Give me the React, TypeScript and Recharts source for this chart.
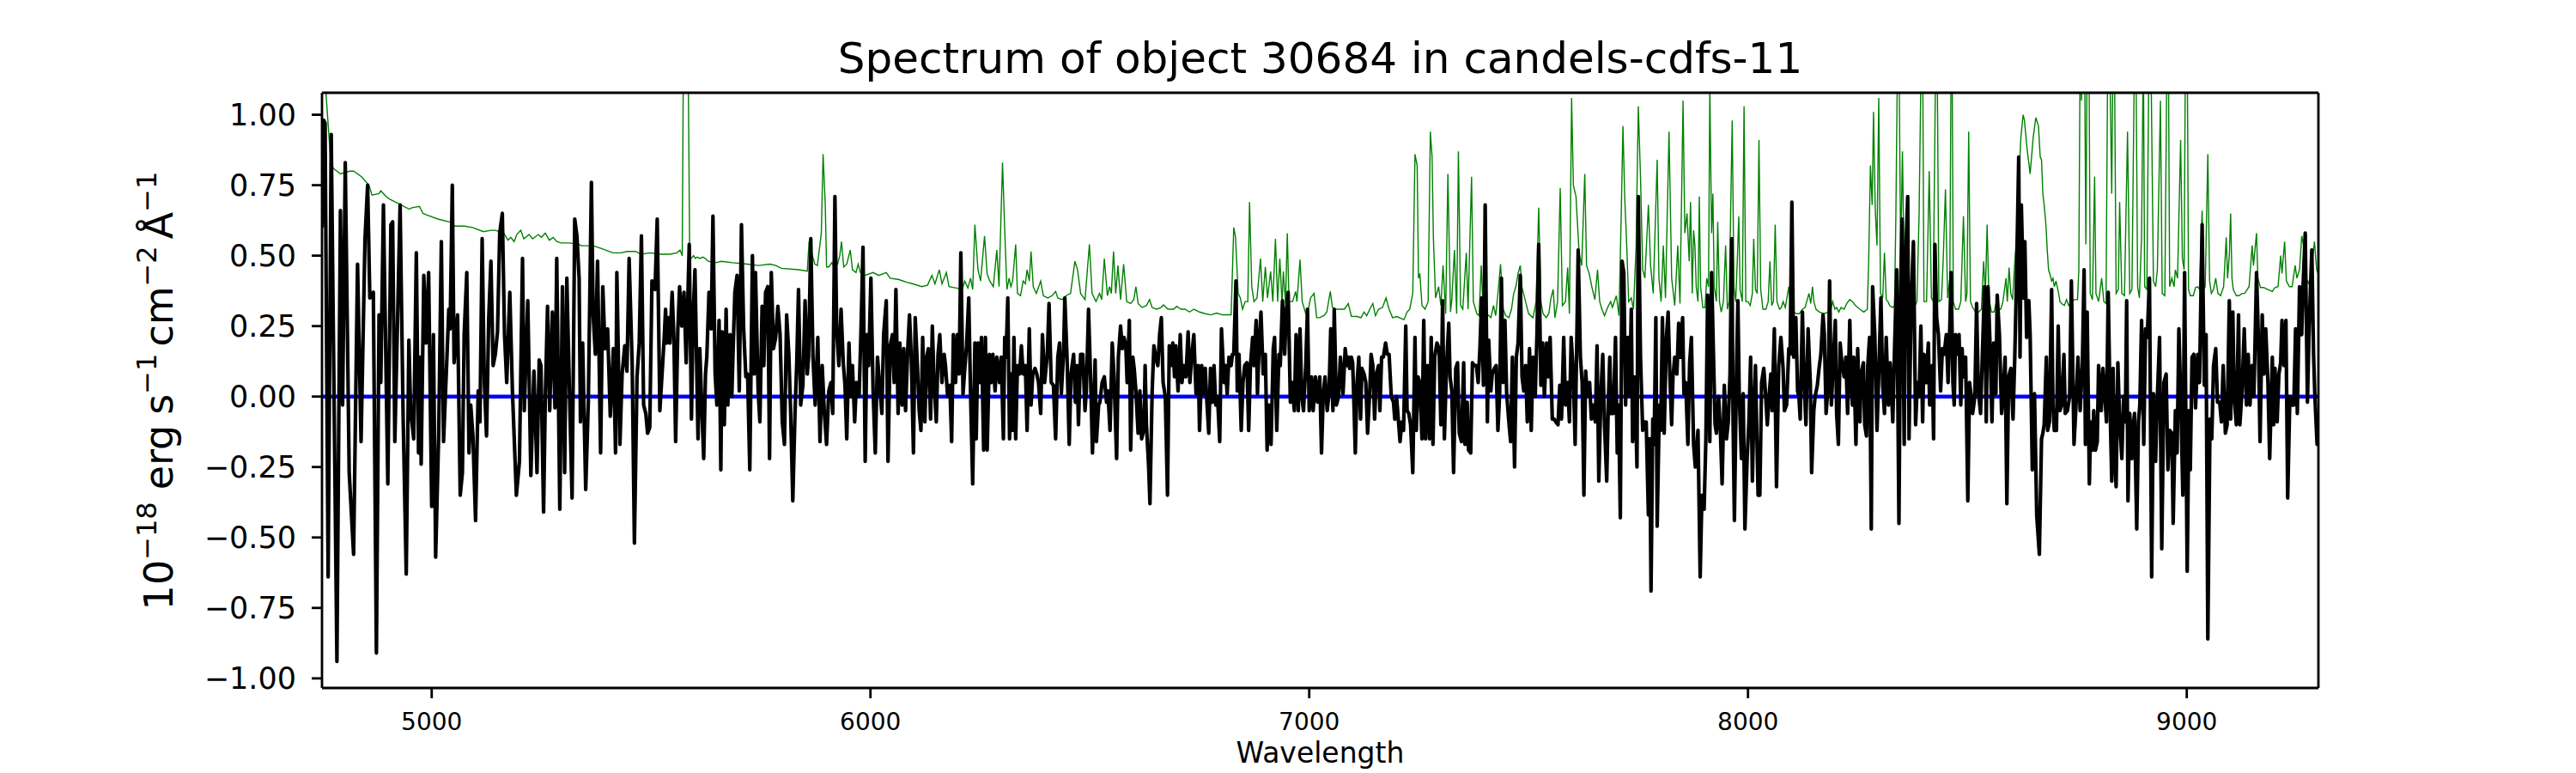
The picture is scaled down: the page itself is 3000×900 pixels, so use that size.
import React from "react";
import { LineChart, Line, XAxis, YAxis } from "recharts";

// flux (black): [wavelength, flux]
const fluxPoints: [number, number][] = [
  [4750, 0.6], [4754, 0.98], [4757, 0.97], [4764, -0.64], [4771, 0.93], [4784, -0.94], [4792, 0.66], [4797, -0.03],
  [4803, 0.83], [4812, -0.27], [4822, -0.56], [4831, 0.47], [4839, -0.16], [4848, 0.56], [4854, 0.75], [4859, 0.35],
  [4867, 0.37], [4874, -0.91], [4880, 0.29], [4884, 0.05], [4890, 0.68], [4900, -0.31], [4907, 0.61], [4911, 0.62],
  [4916, -0.16], [4928, 0.68], [4935, -0.08], [4942, -0.63], [4948, 0.2], [4952, -0.05], [4959, -0.15], [4965, 0.51],
  [4970, -0.2], [4974, 0.14], [4976, -0.24], [4982, 0.43], [4987, 0.19], [4993, 0.44], [5000, -0.39], [5004, 0.22],
  [5009, -0.57], [5016, -0.13], [5022, 0.55], [5027, -0.16], [5034, 0.11], [5039, 0.31], [5042, 0.24], [5047, 0.75],
  [5051, 0.12], [5059, 0.29], [5065, -0.35], [5070, -0.27], [5074, 0.22], [5080, 0.44], [5085, -0.2], [5089, -0.03],
  [5094, -0.14], [5100, -0.44], [5106, 0.02], [5110, -0.09], [5115, 0.56], [5120, 0.05], [5125, -0.14], [5130, 0.28],
  [5135, 0.48], [5140, 0.11], [5145, 0.15], [5150, 0.23], [5155, 0.58], [5161, 0.65], [5166, 0.22], [5171, 0.05],
  [5178, 0.37], [5184, 0.02], [5193, -0.35], [5200, -0.23], [5207, 0.49], [5211, -0.05], [5219, 0.34], [5226, -0.28],
  [5233, 0.09], [5240, -0.27], [5245, 0.13], [5249, 0.11], [5255, -0.41], [5259, 0.0], [5264, 0.32], [5269, -0.05],
  [5275, 0.3], [5281, -0.04], [5285, 0.49], [5292, -0.4], [5298, 0.39], [5303, -0.27], [5308, 0.42], [5315, -0.05],
  [5320, -0.36], [5326, 0.63], [5331, 0.57], [5336, 0.42], [5339, -0.09], [5344, 0.19], [5351, -0.33], [5357, -0.02],
  [5364, 0.76], [5368, 0.29], [5373, 0.15], [5378, 0.48], [5385, -0.2], [5390, 0.39], [5395, 0.17], [5401, 0.24],
  [5407, -0.07], [5414, 0.17], [5419, -0.2], [5422, 0.44], [5429, -0.17], [5434, 0.08], [5440, 0.18], [5445, 0.09],
  [5450, 0.49], [5457, 0.11], [5462, -0.52], [5468, 0.07], [5473, 0.19], [5478, 0.57], [5483, -0.03], [5488, -0.06],
  [5492, -0.13], [5497, -0.11], [5502, 0.41], [5509, 0.38], [5514, 0.63], [5520, -0.05],
  [5530, 0.21], [5533, 0.31], [5536, 0.19], [5539, 0.28], [5543, 0.19], [5548, 0.37], [5552, 0.21], [5556, -0.16],
  [5561, 0.24], [5565, 0.39], [5570, 0.25], [5575, 0.37], [5580, 0.12], [5587, 0.54], [5592, -0.08], [5596, 0.29],
  [5600, 0.45], [5607, -0.15], [5611, 0.17], [5616, -0.06], [5620, -0.22], [5624, 0.08], [5627, 0.14], [5632, 0.37],
  [5637, 0.24], [5641, 0.64], [5646, 0.08], [5650, -0.03], [5655, 0.27], [5659, -0.26], [5662, 0.23], [5667, -0.1],
  [5671, 0.31], [5675, -0.03], [5680, 0.22], [5684, 0.0], [5688, 0.22], [5691, 0.37], [5696, 0.43], [5701, 0.02],
  [5706, 0.61], [5711, 0.24], [5716, 0.07], [5720, 0.08], [5725, -0.26], [5731, 0.5], [5735, 0.08], [5738, 0.44],
  [5744, 0.02], [5748, -0.09], [5753, 0.32], [5757, 0.11], [5761, 0.37], [5766, 0.39], [5770, -0.22], [5774, 0.44],
  [5779, 0.17], [5784, 0.21], [5789, 0.32], [5794, 0.22], [5799, -0.09], [5804, -0.17], [5809, 0.29], [5814, 0.15],
  [5818, -0.05], [5823, -0.37], [5828, -0.06], [5832, 0.12], [5836, 0.38], [5841, -0.03], [5846, 0.04], [5851, 0.34],
  [5856, 0.08], [5859, 0.14], [5864, 0.56], [5869, 0.14], [5874, -0.03], [5880, 0.21], [5885, -0.16], [5890, 0.11],
  [5895, -0.06], [5900, -0.17], [5905, 0.02], [5910, 0.05], [5914, -0.06], [5919, 0.71], [5923, 0.24], [5928, 0.11],
  [5933, 0.31], [5938, 0.12], [5942, 0.04], [5946, -0.15], [5951, 0.19], [5955, 0.0], [5959, 0.11], [5964, -0.09],
  [5968, 0.05], [5974, 0.0], [5978, 0.21], [5983, 0.53], [5988, -0.23], [5992, 0.22], [5996, 0.11], [6001, 0.42],
  [6006, 0.02], [6011, -0.2], [6016, 0.14], [6021, 0.04], [6026, -0.06], [6030, 0.22], [6036, 0.34], [6040, -0.23],
  [6045, 0.18], [6050, 0.22], [6054, 0.05], [6058, 0.38], [6063, -0.06], [6067, 0.19], [6072, -0.03], [6076, 0.17],
  [6080, -0.05], [6085, 0.17], [6089, 0.29], [6093, 0.14], [6098, -0.2], [6102, 0.28], [6107, 0.11], [6111, -0.05],
  [6115, -0.12], [6119, 0.21], [6124, -0.09], [6128, 0.14], [6132, 0.17], [6137, -0.08], [6141, 0.25], [6145, 0.05],
  [6150, -0.09], [6154, 0.15], [6158, 0.22], [6163, 0.05], [6168, 0.15], [6171, 0.11], [6176, 0.0], [6181, 0.04],
  [6185, -0.16], [6189, 0.22], [6194, 0.05], [6198, 0.22], [6202, 0.08], [6206, 0.51], [6211, 0.01], [6215, 0.1],
  [6219, 0.18], [6224, 0.35], [6228, 0.02], [6233, -0.31], [6238, 0.19], [6241, -0.15], [6245, 0.19], [6249, 0.05],
  [6253, 0.21], [6258, -0.19], [6262, 0.21], [6266, -0.19], [6271, 0.15], [6275, 0.05], [6279, 0.15], [6284, 0.02],
  [6288, 0.14], [6294, 0.05], [6298, 0.14], [6303, -0.15],
  [6306, 0.21], [6309, 0.14], [6313, 0.35], [6317, -0.15], [6320, 0.08], [6324, -0.12], [6327, 0.21], [6331, -0.15],
  [6335, 0.11], [6340, 0.08], [6344, 0.18], [6348, 0.08], [6353, 0.11], [6357, -0.12], [6362, 0.24], [6366, -0.03],
  [6370, 0.08], [6375, 0.1], [6379, 0.08], [6383, 0.05], [6388, -0.06], [6392, 0.22], [6397, 0.05], [6403, 0.15],
  [6407, 0.33], [6412, 0.05], [6417, 0.04], [6422, -0.15], [6427, 0.14], [6431, 0.19], [6435, 0.01], [6440, 0.15],
  [6443, 0.35], [6448, 0.14], [6453, -0.17], [6457, 0.08], [6463, 0.15], [6467, -0.02], [6471, 0.11], [6474, -0.1],
  [6479, 0.15], [6484, 0.15], [6489, -0.05], [6492, 0.02], [6497, 0.31], [6502, 0.05], [6506, -0.2], [6512, 0.13],
  [6515, -0.16], [6520, -0.03], [6523, -0.02], [6528, 0.05], [6533, 0.07], [6538, -0.02], [6541, 0.02], [6546, -0.12],
  [6551, 0.19], [6555, 0.08], [6561, -0.22], [6565, 0.14], [6570, 0.25], [6574, 0.17], [6578, 0.21], [6582, 0.18],
  [6585, 0.05], [6590, 0.27], [6593, -0.19], [6598, 0.14], [6601, 0.1], [6605, 0.02], [6610, -0.13], [6614, 0.02],
  [6618, -0.15], [6623, -0.12], [6626, 0.11], [6629, -0.1], [6634, -0.25], [6637, -0.38], [6642, 0.02], [6646, 0.18],
  [6650, 0.14], [6655, 0.11], [6659, 0.22], [6663, 0.28], [6667, 0.05], [6672, 0.0], [6677, -0.35], [6681, 0.18],
  [6685, 0.11], [6689, 0.19], [6693, 0.07], [6696, 0.18], [6701, 0.02], [6706, 0.22], [6710, 0.05], [6714, 0.11],
  [6719, 0.07], [6724, 0.23], [6728, 0.05], [6732, 0.14], [6737, 0.22], [6742, 0.01], [6747, 0.11], [6750, -0.12],
  [6755, 0.11], [6759, 0.01], [6763, 0.1], [6766, 0.0], [6771, -0.13], [6775, 0.1], [6779, -0.02], [6783, 0.11],
  [6787, -0.03], [6791, 0.0], [6796, -0.16], [6800, 0.24], [6806, 0.05], [6809, 0.11], [6813, 0.01], [6817, 0.14],
  [6822, 0.11], [6825, 0.15], [6828, 0.15], [6833, 0.41], [6836, 0.02], [6840, 0.15], [6845, -0.12], [6849, 0.05],
  [6853, 0.11], [6858, 0.12], [6862, -0.12], [6866, 0.11], [6871, 0.21], [6874, 0.11], [6879, 0.27], [6882, 0.01],
  [6886, 0.19], [6890, 0.3], [6895, 0.08], [6900, 0.15], [6904, -0.19], [6908, -0.03], [6913, -0.17], [6918, 0.17],
  [6921, 0.21], [6926, -0.12], [6931, 0.15], [6934, 0.11], [6939, 0.34], [6944, 0.15], [6948, 0.31], [6952, 0.37],
  [6957, -0.02], [6961, 0.05], [6966, -0.05], [6970, 0.22], [6975, -0.05], [6979, 0.24], [6983, 0.0], [6987, -0.05],
  [6992, 0.11], [6996, 0.31], [7000, -0.05], [7005, 0.07], [7009, -0.05], [7014, 0.07], [7019, -0.02], [7024, 0.07],
  [7028, -0.2], [7032, 0.01], [7036, 0.07], [7041, -0.05], [7045, 0.01], [7049, 0.24], [7054, -0.05], [7057, 0.31],
  [7062, -0.03], [7067, 0.0], [7071, 0.14], [7077, 0.01], [7082, 0.17], [7086, 0.11],
  [7089, 0.14], [7092, 0.1], [7096, 0.14], [7099, 0.12], [7102, -0.03], [7105, -0.2], [7109, 0.05], [7113, 0.14],
  [7117, -0.08], [7120, 0.1], [7125, 0.08], [7129, 0.05], [7133, -0.13], [7138, 0.02], [7141, 0.15], [7145, 0.11],
  [7149, -0.08], [7153, 0.08], [7158, 0.11], [7161, -0.05], [7165, 0.14], [7169, 0.14], [7174, 0.19], [7178, 0.15],
  [7182, 0.15], [7187, 0.0], [7192, -0.02], [7195, -0.08], [7199, 0.0], [7203, -0.08], [7207, -0.16], [7211, -0.09],
  [7215, -0.12], [7220, 0.25], [7223, -0.05], [7227, -0.06], [7231, -0.1], [7236, -0.27], [7241, 0.21], [7244, -0.12],
  [7248, 0.07], [7252, 0.05], [7257, -0.15], [7261, 0.27], [7265, -0.15], [7270, 0.11], [7274, -0.15], [7278, 0.21],
  [7282, -0.17], [7286, 0.14], [7291, 0.19], [7296, 0.17], [7300, -0.1], [7304, 0.34], [7308, -0.15], [7313, 0.11],
  [7318, 0.26], [7321, 0.07], [7325, 0.02], [7329, -0.27], [7334, 0.1], [7338, 0.12], [7342, -0.13], [7347, -0.16],
  [7352, 0.12], [7355, -0.17], [7360, -0.02], [7363, -0.19], [7368, -0.2], [7372, 0.12], [7376, 0.11], [7381, 0.11],
  [7385, 0.05], [7389, 0.17], [7393, 0.35], [7397, 0.04], [7401, 0.68], [7406, -0.09], [7409, 0.2], [7414, 0.02],
  [7417, 0.08], [7422, 0.1], [7426, 0.11], [7430, -0.12], [7434, 0.01], [7438, 0.42], [7442, 0.05], [7446, 0.27],
  [7450, 0.01], [7455, -0.09], [7459, -0.16], [7463, 0.14], [7468, -0.25], [7472, 0.14], [7476, 0.19], [7481, 0.43],
  [7485, 0.07], [7489, 0.02], [7493, 0.11], [7497, -0.09], [7502, 0.17], [7506, -0.12], [7510, 0.14], [7515, 0.0],
  [7519, 0.22], [7523, 0.54], [7528, 0.04], [7532, 0.19], [7536, 0.0], [7541, 0.19], [7545, 0.07], [7549, 0.21],
  [7554, -0.08], [7558, -0.08], [7562, -0.09], [7567, -0.1], [7571, 0.04], [7575, -0.08], [7580, 0.21], [7584, -0.03],
  [7589, 0.05], [7593, -0.09], [7597, 0.21], [7602, 0.08], [7606, -0.17], [7610, 0.22], [7613, 0.52], [7618, 0.14],
  [7622, 0.05], [7626, -0.35], [7630, 0.09], [7634, 0.0], [7639, 0.05], [7643, -0.08], [7647, -0.03], [7652, -0.09],
  [7656, 0.18], [7660, -0.3], [7665, 0.02], [7669, 0.15], [7673, -0.1], [7678, -0.3], [7682, 0.0], [7685, 0.14],
  [7688, -0.06], [7693, -0.06], [7698, 0.21], [7702, -0.2], [7705, -0.03], [7709, -0.43], [7713, 0.48], [7717, 0.44],
  [7721, -0.03], [7726, 0.21], [7730, 0.0], [7734, 0.31], [7737, -0.16], [7742, 0.07], [7747, -0.25], [7750, 0.71],
  [7755, 0.14], [7760, -0.12], [7764, -0.09], [7768, -0.09], [7773, -0.42], [7776, -0.15], [7779, -0.69], [7783, -0.08],
  [7786, -0.17], [7790, 0.28], [7793, -0.46], [7798, -0.03], [7801, -0.12], [7805, 0.28], [7809, -0.13], [7814, 0.21],
  [7818, 0.3], [7822, 0.07], [7826, -0.1], [7829, 0.07], [7833, 0.14], [7838, 0.08], [7842, 0.26], [7846, 0.14],
  [7851, 0.28], [7854, 0.01], [7858, 0.05], [7863, -0.17], [7867, 0.12], [7871, 0.21],
  [7876, -0.17], [7880, -0.25], [7886, -0.12], [7891, -0.64], [7895, -0.35], [7900, -0.4], [7904, -0.15], [7908, 0.36],
  [7913, -0.16], [7917, 0.44], [7921, 0.17], [7925, -0.1], [7928, -0.13], [7933, 0.0], [7937, -0.12], [7941, -0.31],
  [7946, 0.04], [7951, -0.15], [7955, -0.09], [7959, 0.08], [7963, 0.56], [7966, -0.09], [7969, -0.44], [7974, 0.11],
  [7977, 0.34], [7980, 0.01], [7985, -0.22], [7989, 0.01], [7993, -0.47], [7998, -0.22], [8002, -0.09], [8006, 0.14],
  [8010, -0.3], [8013, -0.08], [8017, 0.11], [8023, -0.35], [8027, -0.35], [8031, 0.05], [8036, 0.1], [8040, 0.01],
  [8044, -0.1], [8048, 0.0], [8052, 0.08], [8055, -0.05], [8060, 0.24], [8065, -0.32], [8070, 0.11], [8075, 0.21],
  [8080, 0.1], [8083, -0.05], [8088, -0.03], [8093, 0.17], [8096, 0.15], [8100, 0.69], [8104, 0.14], [8109, 0.28],
  [8113, 0.02], [8116, 0.0], [8119, -0.08], [8124, 0.3], [8128, 0.05], [8132, -0.1], [8137, 0.24], [8142, 0.05],
  [8145, -0.27], [8150, -0.05], [8153, 0.0], [8158, 0.04], [8162, 0.1], [8166, 0.15], [8171, 0.29], [8174, 0.22],
  [8178, -0.06], [8183, 0.05], [8186, 0.41], [8190, -0.03], [8194, 0.11], [8199, 0.27], [8202, -0.06], [8206, -0.17],
  [8210, 0.19], [8214, 0.12], [8219, 0.07], [8223, 0.14], [8227, -0.06], [8232, 0.27], [8235, 0.05], [8238, -0.03],
  [8241, 0.14], [8246, -0.17], [8250, 0.17], [8255, -0.09], [8258, 0.08], [8263, 0.12], [8266, -0.1], [8270, -0.14],
  [8273, 0.11], [8277, 0.21], [8281, -0.47], [8284, 0.39], [8289, 0.22], [8294, -0.12], [8298, 0.08], [8303, 0.35],
  [8307, 0.04], [8311, -0.06], [8315, 0.21], [8320, -0.03], [8324, 0.12], [8330, -0.09], [8334, 0.17], [8339, 0.45],
  [8344, -0.45], [8348, 0.39], [8351, 0.63], [8356, -0.17], [8359, 0.48], [8364, 0.71], [8367, -0.15], [8372, 0.34],
  [8377, 0.55], [8382, -0.1], [8386, 0.05], [8390, 0.0], [8394, 0.25], [8398, -0.09], [8401, 0.15], [8406, 0.05],
  [8411, 0.19], [8414, -0.03], [8420, 0.11], [8423, -0.15], [8426, 0.54], [8430, 0.28], [8434, 0.22], [8439, 0.02],
  [8443, 0.17], [8447, 0.15], [8452, 0.22], [8456, 0.05], [8460, 0.25], [8463, 0.44], [8467, 0.05], [8470, -0.03],
  [8473, 0.22], [8477, 0.15], [8481, 0.22], [8485, -0.03], [8488, 0.17], [8491, 0.07], [8496, 0.14], [8501, -0.37],
  [8505, 0.05], [8509, 0.0], [8512, -0.06], [8517, 0.0], [8521, 0.33], [8525, 0.02], [8530, -0.06], [8534, 0.14],
  [8539, 0.39], [8543, -0.09], [8547, 0.39], [8552, 0.17], [8556, -0.09], [8560, 0.19], [8565, 0.01], [8568, 0.36],
  [8573, 0.22], [8578, -0.06], [8581, 0.0], [8586, 0.14], [8590, -0.38], [8594, 0.07], [8599, 0.1], [8604, -0.08],
  [8608, 0.14], [8612, 0.42], [8617, 0.85], [8620, 0.14], [8623, 0.68], [8628, 0.35], [8631, 0.55], [8635, 0.21],
  [8640, 0.34], [8643, 0.22], [8648, -0.26], [8653, 0.01],
  [8658, -0.42], [8664, -0.56], [8669, -0.15], [8672, -0.13], [8675, -0.1], [8680, 0.14], [8683, -0.12], [8687, -0.09],
  [8692, 0.38], [8695, -0.03], [8698, -0.12], [8703, -0.12], [8707, 0.25], [8711, -0.05], [8715, -0.03], [8720, 0.15],
  [8723, -0.06], [8728, -0.05], [8733, 0.0], [8737, 0.41], [8743, -0.17], [8747, -0.05], [8752, 0.14], [8757, -0.05],
  [8762, 0.11], [8766, 0.45], [8769, -0.17], [8773, 0.3], [8778, -0.31], [8781, -0.09], [8785, -0.19], [8788, -0.05],
  [8792, -0.19], [8796, -0.16], [8799, 0.11], [8805, -0.05], [8809, 0.1], [8813, 0.01], [8817, -0.09], [8821, 0.37],
  [8826, -0.09], [8829, -0.3], [8832, 0.1], [8836, -0.22], [8839, -0.32], [8843, 0.12], [8847, -0.09], [8852, -0.22],
  [8856, 0.0], [8860, -0.09], [8863, 0.34], [8866, -0.37], [8870, -0.06], [8875, -0.22], [8878, -0.1], [8881, -0.06],
  [8886, -0.47], [8890, -0.09], [8893, -0.03], [8897, 0.27], [8902, -0.17], [8906, 0.24], [8910, 0.21], [8915, 0.42],
  [8920, -0.64], [8924, 0.01], [8929, -0.23], [8933, 0.0], [8938, 0.21], [8943, -0.54], [8948, 0.05], [8953, 0.08],
  [8957, -0.26], [8961, -0.12], [8966, -0.13], [8969, -0.45], [8974, -0.05], [8978, -0.2], [8982, 0.24], [8987, -0.05],
  [8991, -0.35], [8995, 0.44], [9001, -0.62], [9005, -0.05], [9008, -0.26], [9012, 0.14], [9016, 0.15], [9020, -0.04],
  [9025, 0.15], [9029, 0.05], [9035, 0.61], [9040, 0.04], [9044, 0.22], [9048, -0.86], [9053, -0.08], [9057, -0.15],
  [9061, 0.11], [9066, 0.17], [9070, -0.02], [9075, -0.02], [9079, -0.09], [9083, 0.11], [9088, -0.13], [9092, -0.1],
  [9097, 0.34], [9100, -0.08], [9105, 0.3], [9108, 0.0], [9113, -0.1], [9118, 0.29], [9121, -0.1], [9126, 0.02],
  [9131, 0.24], [9136, -0.03], [9140, 0.15], [9144, -0.03], [9149, 0.11], [9153, 0.0], [9159, 0.44], [9163, 0.22],
  [9167, -0.16], [9172, 0.29], [9176, 0.08], [9180, 0.24], [9185, 0.05], [9189, -0.22], [9195, 0.14], [9198, -0.1],
  [9201, 0.1], [9206, -0.09], [9210, 0.08], [9214, 0.12], [9217, 0.27], [9222, 0.11], [9226, 0.27], [9230, -0.36],
  [9235, 0.0], [9239, -0.03], [9244, -0.03], [9248, 0.24], [9252, -0.06], [9257, 0.39], [9262, 0.22], [9265, 0.39],
  [9270, 0.58], [9275, -0.02], [9279, 0.25], [9285, 0.52], [9289, 0.15], [9292, 0.0], [9297, -0.17], [9301, -0.15],
];

// error spectrum (green): [wavelength, sigma]
const errorPoints: [number, number][] = [
  [4750, 1.5], [4758, 1.1], [4770, 0.83], [4776, 0.81], [4792, 0.79], [4813, 0.8], [4822, 0.8], [4840, 0.78],
  [4857, 0.75], [4864, 0.715], [4880, 0.72], [4884, 0.73], [4896, 0.71], [4905, 0.7], [4924, 0.685], [4930, 0.68],
  [4949, 0.665], [4955, 0.67], [4972, 0.675], [4980, 0.65], [4988, 0.645], [5014, 0.63], [5040, 0.62], [5053, 0.605],
  [5075, 0.605], [5093, 0.6], [5118, 0.585], [5135, 0.59], [5145, 0.59], [5164, 0.58], [5174, 0.555], [5180, 0.565],
  [5188, 0.55], [5194, 0.575], [5203, 0.59], [5210, 0.56], [5222, 0.575], [5230, 0.56], [5243, 0.575], [5250, 0.565],
  [5259, 0.58], [5268, 0.555], [5277, 0.565], [5285, 0.55], [5295, 0.545], [5314, 0.545], [5334, 0.54], [5342, 0.535],
  [5368, 0.535], [5387, 0.525], [5413, 0.51], [5432, 0.51], [5445, 0.515], [5465, 0.515], [5477, 0.505], [5497, 0.51],
  [5522, 0.505], [5543, 0.505], [5559, 0.51], [5566, 0.52], [5571, 0.5], [5574, 1.3], [5579, 1.2], [5584, 1.3],
  [5588, 0.5], [5591, 0.49], [5597, 0.5], [5601, 0.49], [5605, 0.495], [5611, 0.49], [5618, 0.495], [5624, 0.49],
  [5630, 0.48], [5647, 0.475], [5660, 0.48], [5686, 0.475], [5719, 0.47], [5745, 0.465], [5771, 0.47], [5784, 0.465],
  [5797, 0.455], [5836, 0.45], [5856, 0.445], [5860, 0.55], [5866, 0.51], [5873, 0.47], [5879, 0.465], [5888, 0.58],
  [5892, 0.86], [5897, 0.68], [5900, 0.46], [5905, 0.46], [5912, 0.475], [5917, 0.46], [5925, 0.47], [5930, 0.5],
  [5934, 0.55], [5939, 0.46], [5946, 0.47], [5954, 0.52], [5959, 0.45], [5967, 0.44], [5972, 0.47], [5977, 0.44],
  [5987, 0.43], [6006, 0.44], [6019, 0.43], [6036, 0.44], [6045, 0.42], [6065, 0.415], [6084, 0.405], [6097, 0.4],
  [6117, 0.39], [6130, 0.395], [6140, 0.43], [6147, 0.4], [6157, 0.45], [6163, 0.4], [6173, 0.44], [6179, 0.39],
  [6196, 0.385], [6209, 0.38], [6215, 0.41], [6222, 0.385], [6228, 0.42], [6233, 0.38], [6238, 0.61], [6245, 0.45],
  [6251, 0.41], [6260, 0.57], [6266, 0.435], [6272, 0.41], [6280, 0.39], [6288, 0.52], [6293, 0.39], [6301, 0.83],
  [6306, 0.59], [6311, 0.38], [6316, 0.42], [6320, 0.39], [6324, 0.41], [6331, 0.54], [6335, 0.366], [6342, 0.358],
  [6348, 0.41], [6353, 0.4], [6357, 0.45], [6362, 0.41], [6366, 0.515], [6371, 0.39], [6378, 0.366], [6388, 0.41],
  [6394, 0.358], [6404, 0.35], [6414, 0.358], [6422, 0.373], [6427, 0.35], [6437, 0.344], [6446, 0.358], [6456, 0.366],
  [6466, 0.48], [6472, 0.45], [6479, 0.366], [6489, 0.344], [6499, 0.54], [6505, 0.366], [6514, 0.337], [6522, 0.366],
  [6527, 0.344], [6533, 0.49], [6540, 0.358], [6545, 0.39], [6549, 0.366], [6554, 0.515], [6559, 0.366], [6564, 0.465],
  [6570, 0.344], [6577, 0.47], [6584, 0.337], [6593, 0.33], [6600, 0.344], [6605, 0.39], [6610, 0.33], [6619, 0.316],
  [6629, 0.323], [6636, 0.344], [6642, 0.316], [6652, 0.31], [6662, 0.316], [6668, 0.325], [6678, 0.31], [6691, 0.31],
  [6698, 0.32], [6708, 0.31], [6717, 0.31], [6727, 0.3], [6737, 0.31], [6750, 0.3], [6763, 0.294], [6776, 0.29],
  [6789, 0.296], [6802, 0.29], [6822, 0.29], [6828, 0.6], [6832, 0.565], [6838, 0.366], [6843, 0.35], [6848, 0.31],
  [6854, 0.337], [6860, 0.337], [6864, 0.69], [6869, 0.39], [6874, 0.337], [6881, 0.35], [6889, 0.49], [6894, 0.337],
  [6900, 0.46], [6905, 0.35], [6912, 0.444], [6917, 0.337], [6923, 0.56], [6928, 0.337], [6933, 0.49], [6938, 0.33],
  [6941, 0.444], [6946, 0.33], [6950, 0.58], [6954, 0.337], [6962, 0.337], [6969, 0.373], [6972, 0.337], [6979, 0.486],
  [6984, 0.337], [6992, 0.294], [6998, 0.31], [7003, 0.35], [7011, 0.366], [7017, 0.28], [7024, 0.28], [7034, 0.288],
  [7040, 0.3], [7048, 0.373], [7053, 0.316], [7060, 0.31], [7070, 0.31], [7080, 0.31], [7086, 0.323], [7089, 0.33],
  [7096, 0.285], [7109, 0.284], [7118, 0.28], [7125, 0.3], [7131, 0.287], [7138, 0.31], [7145, 0.33], [7151, 0.287],
  [7158, 0.31], [7167, 0.316], [7175, 0.35], [7182, 0.31], [7190, 0.28], [7200, 0.284], [7210, 0.277], [7216, 0.273],
  [7223, 0.3], [7229, 0.31], [7236, 0.366], [7241, 0.86], [7246, 0.82], [7249, 0.42], [7252, 0.437], [7257, 0.323],
  [7264, 0.31], [7271, 0.337], [7276, 0.94], [7280, 0.85], [7283, 0.56], [7288, 0.35], [7295, 0.39], [7300, 0.323],
  [7305, 0.465], [7311, 0.294], [7316, 0.79], [7322, 0.3], [7325, 0.344], [7331, 0.52], [7336, 0.294], [7340, 0.87],
  [7345, 0.323], [7350, 0.31], [7358, 0.51], [7362, 0.31], [7370, 0.78], [7374, 0.337], [7382, 0.294], [7387, 0.287],
  [7392, 0.465], [7396, 0.323], [7401, 0.39], [7405, 0.294], [7414, 0.28], [7420, 0.323], [7425, 0.287], [7431, 0.38],
  [7436, 0.47], [7442, 0.31], [7448, 0.287], [7455, 0.28], [7461, 0.31], [7466, 0.366], [7471, 0.39], [7476, 0.437],
  [7481, 0.465], [7485, 0.387], [7493, 0.337], [7500, 0.294], [7510, 0.28], [7517, 0.337], [7523, 0.67], [7528, 0.337],
  [7533, 0.294], [7540, 0.28], [7546, 0.294], [7551, 0.35], [7556, 0.38], [7560, 0.28], [7566, 0.337], [7572, 0.74],
  [7577, 0.323], [7584, 0.337], [7589, 0.458], [7593, 0.294], [7598, 1.06], [7602, 0.75], [7608, 0.71], [7615, 0.51],
  [7621, 0.465], [7628, 0.79], [7632, 0.465], [7638, 0.437], [7644, 0.39], [7651, 0.344], [7657, 0.45], [7662, 0.337],
  [7667, 0.31], [7673, 0.287], [7680, 0.316], [7687, 0.337], [7691, 0.316], [7700, 0.358], [7706, 0.287], [7711, 0.64],
  [7715, 0.96], [7719, 0.71], [7724, 0.52], [7728, 0.337], [7734, 0.35], [7739, 0.31], [7745, 0.536], [7750, 1.03],
  [7755, 0.78], [7760, 0.45], [7765, 0.42], [7773, 0.68], [7778, 0.465], [7784, 0.366], [7793, 0.84], [7797, 0.42],
  [7802, 0.337], [7807, 0.536], [7812, 0.35], [7820, 0.94], [7826, 0.42], [7833, 0.323], [7840, 0.536], [7845, 0.33],
  [7852, 1.05], [7856, 0.58], [7861, 0.65], [7866, 0.48], [7869, 0.69], [7873, 0.366], [7876, 0.59], [7879, 0.536],
  [7882, 0.39], [7886, 0.337], [7889, 0.71], [7892, 0.39], [7897, 0.316], [7902, 0.316], [7906, 0.42], [7910, 0.39],
  [7913, 1.1], [7917, 0.58], [7920, 0.72], [7923, 0.39], [7928, 0.337], [7931, 0.62], [7935, 0.337], [7939, 0.3],
  [7944, 0.337], [7949, 0.536], [7953, 0.31], [7957, 0.337], [7964, 0.98], [7968, 0.39], [7972, 0.337], [7976, 0.5],
  [7979, 0.64], [7982, 0.38], [7987, 0.337], [7991, 1.03], [7995, 0.337], [8000, 0.337], [8005, 0.323], [8010, 0.366],
  [8013, 0.56], [8017, 0.38], [8021, 0.366], [8025, 0.91], [8029, 0.38], [8034, 0.31], [8041, 0.31], [8046, 0.337],
  [8050, 0.48], [8054, 0.323], [8058, 0.337], [8062, 0.61], [8066, 0.337], [8072, 0.31], [8076, 0.316], [8080, 0.337],
  [8085, 0.316], [8088, 0.344], [8093, 0.39], [8098, 0.31], [8104, 0.3], [8111, 0.294], [8117, 0.294], [8124, 0.31],
  [8130, 0.316], [8135, 0.344], [8139, 0.366], [8143, 0.33], [8147, 0.39], [8150, 0.337], [8155, 0.31], [8163, 0.3],
  [8173, 0.294], [8183, 0.3], [8189, 0.31], [8193, 0.337], [8198, 0.31], [8202, 0.316], [8207, 0.3], [8212, 0.316],
  [8219, 0.31], [8225, 0.33], [8232, 0.344], [8238, 0.337], [8245, 0.323], [8255, 0.31], [8264, 0.3], [8272, 0.31],
  [8275, 0.48], [8279, 0.82], [8283, 0.68], [8286, 1.01], [8290, 0.665], [8294, 0.536], [8298, 1.06], [8302, 0.366],
  [8307, 0.35], [8311, 0.51], [8315, 0.344], [8319, 0.337], [8323, 0.323], [8330, 0.316], [8334, 0.323], [8337, 0.64],
  [8341, 1.25], [8344, 1.25], [8348, 0.49], [8352, 0.87], [8357, 0.337], [8362, 0.39], [8367, 0.337], [8372, 0.344],
  [8377, 0.42], [8381, 0.323], [8385, 0.337], [8390, 0.65], [8395, 1.25], [8398, 1.25], [8401, 0.337], [8407, 0.337],
  [8413, 0.8], [8418, 0.35], [8422, 0.337], [8428, 1.25], [8431, 1.25], [8435, 0.337], [8441, 0.344], [8445, 0.49],
  [8450, 0.735], [8455, 0.35], [8460, 0.42], [8463, 1.25], [8465, 1.25], [8468, 0.337], [8473, 0.31], [8480, 0.31],
  [8485, 0.337], [8491, 0.64], [8496, 0.337], [8499, 0.366], [8503, 0.94], [8507, 0.337], [8512, 0.316], [8519, 0.3],
  [8526, 0.3], [8532, 0.31], [8537, 0.48], [8541, 0.366], [8545, 0.61], [8549, 0.35], [8555, 0.3], [8561, 0.3],
  [8566, 0.337], [8571, 0.31], [8576, 0.31], [8581, 0.337], [8588, 0.42], [8591, 0.337], [8595, 0.458], [8599, 0.366],
  [8603, 0.344], [8607, 0.45], [8612, 0.565], [8617, 0.765], [8622, 0.92], [8627, 1.0], [8630, 0.98], [8636, 0.88],
  [8643, 0.79], [8650, 0.92], [8656, 0.99], [8662, 0.96], [8666, 0.85], [8669, 0.84], [8672, 0.72], [8675, 0.68],
  [8679, 0.61], [8682, 0.52], [8685, 0.45], [8688, 0.435], [8692, 0.41], [8695, 0.42], [8698, 0.39], [8702, 0.41],
  [8705, 0.387], [8708, 0.366], [8711, 0.337], [8715, 0.33], [8721, 0.323], [8726, 0.344], [8731, 0.323], [8737, 0.337],
  [8744, 0.344], [8751, 0.344], [8754, 0.45], [8757, 1.25], [8760, 1.05], [8764, 1.25], [8767, 1.25], [8770, 0.54],
  [8773, 1.25], [8777, 1.25], [8780, 0.366], [8785, 0.344], [8790, 0.78], [8793, 0.366], [8799, 0.337], [8806, 0.42],
  [8811, 0.337], [8816, 0.33], [8820, 1.25], [8824, 1.25], [8829, 0.72], [8832, 1.25], [8835, 1.25], [8839, 0.366],
  [8844, 0.38], [8847, 0.69], [8852, 0.366], [8858, 0.358], [8865, 0.94], [8870, 0.366], [8875, 0.38], [8881, 1.25],
  [8884, 1.25], [8888, 0.39], [8892, 0.35], [8897, 0.565], [8901, 1.25], [8904, 0.39], [8909, 0.38], [8914, 1.25],
  [8918, 1.25], [8924, 0.41], [8929, 0.39], [8933, 0.45], [8940, 1.05], [8944, 0.366], [8950, 0.358], [8955, 1.25],
  [8958, 1.25], [8961, 0.39], [8966, 0.42], [8971, 0.39], [8974, 0.45], [8979, 0.42], [8986, 0.91], [8990, 0.49],
  [8994, 0.45], [8997, 1.25], [9001, 1.25], [9004, 0.38], [9008, 0.358], [9015, 0.358], [9020, 0.387], [9025, 0.39],
  [9029, 0.38], [9035, 0.66], [9039, 0.38], [9042, 0.39], [9048, 0.86], [9052, 0.41], [9056, 0.366], [9061, 0.38],
  [9066, 0.42], [9071, 0.366], [9077, 0.358], [9084, 0.39], [9090, 0.565], [9093, 0.42], [9097, 0.5], [9100, 0.65],
  [9103, 0.42], [9106, 0.38], [9113, 0.358], [9119, 0.358], [9126, 0.366], [9132, 0.366], [9142, 0.39], [9149, 0.536],
  [9152, 0.465], [9159, 0.58], [9162, 0.42], [9168, 0.387], [9175, 0.387], [9185, 0.38], [9195, 0.373], [9201, 0.387],
  [9208, 0.39], [9214, 0.5], [9217, 0.437], [9223, 0.55], [9227, 0.41], [9234, 0.39], [9240, 0.39], [9247, 0.465],
  [9251, 0.42], [9257, 0.45], [9262, 0.57], [9266, 0.536], [9271, 0.39], [9276, 0.41], [9281, 0.39], [9286, 0.48],
  [9291, 0.55], [9296, 0.45], [9299, 0.437],
];

// zero level (blue)
const zeroPoints: [number, number][] = [[4750, 0], [9301, 0]];

const xTicks = [5000, 6000, 7000, 8000, 9000];
const yTicks = [-1, -0.75, -0.5, -0.25, 0, 0.25, 0.5, 0.75, 1];
const xDomain: [number, number] = [4750, 9300];
const yDomain: [number, number] = [-1.034, 1.078];

const toRows = (pts: [number, number][]) => pts.map(([wave, flux]) => ({ wave, flux }));

const FONT = "DejaVu Sans";
const axisStyle = { stroke: "#000", strokeWidth: 2.8 };
const fmtY = (v: number) => (v < 0 ? "\u2212" : "") + Math.abs(v).toFixed(2);

export default function App() {
  return (
    <div style={{ position: "relative", width: 3000, height: 900, background: "#fff" }}>
      <style>{"body{margin:0}"}</style>
      <LineChart width={3000} height={900} margin={{ top: 107, right: 299, bottom: 39, left: 275 }}>
        <XAxis
          dataKey="wave"
          type="number"
          domain={xDomain}
          allowDataOverflow
          ticks={xTicks}
          height={60}
          tickSize={12}
          tickMargin={17}
          axisLine={axisStyle}
          tickLine={axisStyle}
          tick={{ fontSize: 28, fill: "#000", fontFamily: FONT }}
        />
        <XAxis
          xAxisId="top"
          orientation="top"
          dataKey="wave"
          type="number"
          domain={xDomain}
          allowDataOverflow
          height={1}
          tick={false}
          tickLine={false}
          axisLine={axisStyle}
        />
        <YAxis
          type="number"
          domain={yDomain}
          allowDataOverflow
          ticks={yTicks}
          width={100}
          tickSize={12}
          tickMargin={18}
          tickFormatter={fmtY}
          axisLine={axisStyle}
          tickLine={axisStyle}
          tick={{ fontSize: 35, fill: "#000", fontFamily: FONT }}
        />
        <YAxis
          yAxisId="right"
          orientation="right"
          type="number"
          domain={yDomain}
          allowDataOverflow
          width={1}
          tick={false}
          tickLine={false}
          axisLine={axisStyle}
        />
        <Line
          data={toRows(errorPoints)}
          dataKey="flux"
          type="linear"
          stroke="#008000"
          strokeWidth={1.4}
          dot={false}
          activeDot={false}
          isAnimationActive={false}
        />
        <Line
          data={toRows(zeroPoints)}
          xAxisId="top"
          yAxisId="right"
          dataKey="flux"
          type="linear"
          stroke="#0000ff"
          strokeWidth={4.5}
          dot={false}
          activeDot={false}
          isAnimationActive={false}
        />
        <Line
          data={toRows(fluxPoints)}
          dataKey="flux"
          type="linear"
          stroke="#000"
          strokeWidth={4.2}
          strokeLinejoin="round"
          dot={false}
          activeDot={false}
          isAnimationActive={false}
        />
      </LineChart>
      <svg width={3000} height={900} style={{ position: "absolute", left: 0, top: 0, pointerEvents: "none" }}>
        <text x={1537.5} y={85} textAnchor="middle" fontSize={50} fontFamily={FONT} fill="#000">
          Spectrum of object 30684 in candels-cdfs-11
        </text>
        <text x={1537.5} y={888} textAnchor="middle" fontSize={33} fontFamily={FONT} fill="#000">
          Wavelength
        </text>
        <text transform="translate(201,455) rotate(-90)" textAnchor="middle" fontSize={46} fontFamily={FONT} fill="#000">
          <tspan>10</tspan>
          <tspan fontSize={32} dy={-19}>{"\u221218"}</tspan>
          <tspan dy={19} dx={14}>erg</tspan>
          <tspan dx={12}>s</tspan>
          <tspan fontSize={32} dy={-19}>{"\u22121"}</tspan>
          <tspan dy={19} dx={8}>cm</tspan>
          <tspan fontSize={32} dy={-19}>{"\u22122"}</tspan>
          <tspan dy={19} dx={8}>{"\u00c5"}</tspan>
          <tspan fontSize={32} dy={-19}>{"\u22121"}</tspan>
        </text>
      </svg>
    </div>
  );
}
